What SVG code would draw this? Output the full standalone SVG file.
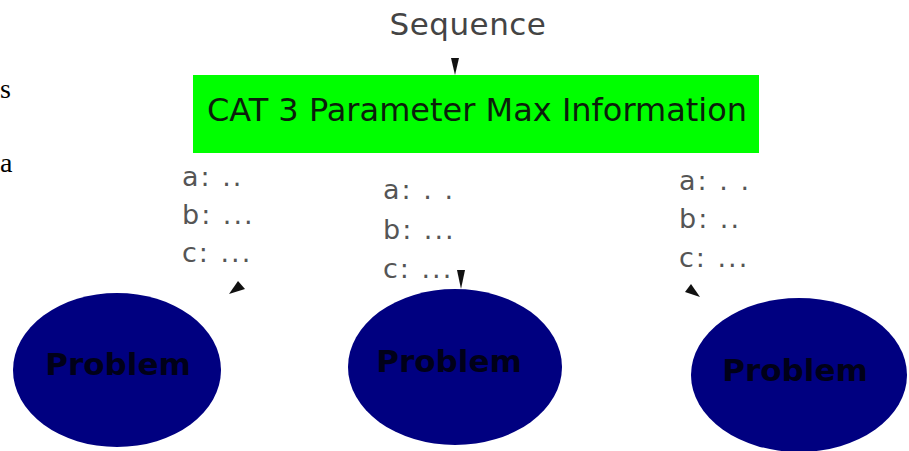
<svg xmlns="http://www.w3.org/2000/svg" width="909" height="451" viewBox="0 0 909 451">
<style>
.frag{font-family:"Liberation Serif",serif;font-size:28px;fill:#000}
.seq{font-family:"DejaVu Sans",sans-serif;font-size:31px;fill:#444;letter-spacing:0.5px}
.title{font-family:"DejaVu Sans",sans-serif;font-size:32px;fill:#0b1f0b}
.lbl{font-family:"DejaVu Sans",sans-serif;font-size:27px;fill:#555;letter-spacing:2px}
.prob{fill:#000080}
.ptxt{font-family:"DejaVu Sans",sans-serif;font-weight:bold;font-size:31px;fill:#000018}
.arr{fill:#111}
</style>
<rect width="909" height="451" fill="#fff"/>
<g id="fragments">
<text class="frag" x="0" y="98">s</text>
<text class="frag" x="0" y="172">a</text>
</g>
<g id="sequence">
<text class="seq" x="468" y="35" text-anchor="middle">Sequence</text>
</g>
<g id="cat3">
<rect x="193" y="75" width="566" height="78" fill="#00ff00"/>
<text class="title" x="477" y="121" text-anchor="middle">CAT 3 Parameter Max Information</text>
</g>
<g id="labels-left">
<text class="lbl" x="182" y="186">a:  ..</text>
<text class="lbl" x="182" y="224">b: ...</text>
<text class="lbl" x="182" y="262">c: ...</text>
</g>
<g id="labels-middle">
<text class="lbl" x="383" y="199">a: . .</text>
<text class="lbl" x="383" y="239">b: ...</text>
<text class="lbl" x="383" y="278">c: ...</text>
</g>
<g id="labels-right">
<text class="lbl" x="679" y="190">a: . .</text>
<text class="lbl" x="679" y="228">b:  ..</text>
<text class="lbl" x="679" y="267">c: ...</text>
</g>
<g id="problem-left">
<ellipse class="prob" cx="117" cy="370" rx="104" ry="77"/>
<text class="ptxt" x="118" y="375" text-anchor="middle">Problem</text>
</g>
<g id="problem-middle">
<ellipse class="prob" cx="455" cy="367" rx="107" ry="78"/>
<text class="ptxt" x="449" y="372" text-anchor="middle">Problem</text>
</g>
<g id="problem-right">
<ellipse class="prob" cx="799" cy="375" rx="108" ry="77"/>
<text class="ptxt" x="795" y="381" text-anchor="middle">Problem</text>
</g>
<g id="connectors">
<polygon class="arr" points="451,58 459,58 455,75"/>
<polygon class="arr" points="457,270 465,270 461,289"/>
<polygon class="arr" points="238,281 245,289 229,294"/>
<polygon class="arr" points="691,284 685,292 700,297"/>
</g>
</svg>
